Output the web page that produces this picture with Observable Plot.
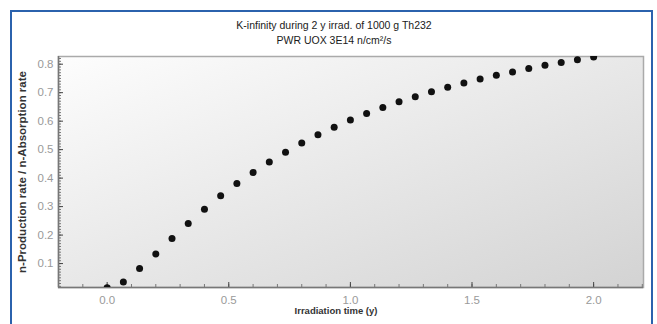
<!DOCTYPE html>
<html>
<head>
<meta charset="utf-8">
<script src="https://cdn.jsdelivr.net/npm/d3@7"></script>
<script src="https://cdn.jsdelivr.net/npm/@observablehq/plot@0.6"></script>
<style>
  html, body { margin: 0; padding: 0; background: #fff; }
  #wrap { position: relative; width: 657px; height: 324px; overflow: hidden; }
  #border { position: absolute; left: 10px; top: 10px; width: 639px; height: 340px; border: 2px solid #2b62ad; pointer-events: none; }
</style>
</head>
<body>
<div id="wrap"><div id="border"></div></div>
<script>
// ---- data ----
const times = d3.range(31).map(k => k / 15); // irradiation times (y), step 2/30
const kinf = [0.015, 0.035, 0.083, 0.134, 0.188, 0.241, 0.291, 0.338, 0.381, 0.420,
              0.457, 0.491, 0.523, 0.552, 0.579, 0.604, 0.627, 0.648, 0.668, 0.686,
              0.703, 0.719, 0.734, 0.748, 0.761, 0.773, 0.785, 0.796, 0.806, 0.816, 0.825];
const xMajor = [0, 0.5, 1.0, 1.5, 2.0];
const xMinor = d3.range(-1, 23).map(k => k / 10);
const yMajor = [0.1, 0.2, 0.3, 0.4, 0.5, 0.6, 0.7, 0.8];
const yMinor = d3.range(2, 83).map(k => k / 100);
const title1 = "K-infinity during 2 y irrad. of 1000 g Th232";
const title2 = "PWR UOX 3E14 n/cm\u00b2/s";
const xLabel = "Irradiation time (y)";
const yLabel = "n-Production rate / n-Absorption rate";

const data = times.map((t, i) => ({t, k: kinf[i]}));
const font = "Arial, 'Liberation Sans', Helvetica, sans-serif";

const W = 657, H = 324, mL = 58, mR = 14, mT = 56, mB = 37;
const innerW = W - mL - mR, innerH = H - mT - mB;

const plot = Plot.plot({
  width: W,
  height: H,
  marginLeft: mL,
  marginRight: mR,
  marginTop: mT,
  marginBottom: mB,
  style: {fontFamily: font, background: "transparent"},
  x: {domain: [-0.2, 2.205]},
  y: {domain: [0.016, 0.827]},
  marks: [
    Plot.frame({fill: "url(#bggrad)", stroke: "#aaa", strokeWidth: 1.5}),
    // minor & major inward ticks
    Plot.tickX(xMinor, {x: d => d, insetTop: innerH - 3, stroke: "#777"}),
    Plot.tickX(xMajor, {x: d => d, insetTop: innerH - 5, stroke: "#444"}),
    Plot.tickY(yMinor, {y: d => d, insetRight: innerW - 3, stroke: "#777"}),
    Plot.tickY(yMajor, {y: d => d, insetRight: innerW - 5, stroke: "#444"}),
    // tick labels
    Plot.axisX(xMajor, {tickSize: 0, tickPadding: 8, fill: "#9a9a9a", fontSize: 11.5, label: null, tickFormat: d3.format(".1f")}),
    Plot.axisY(yMajor, {tickSize: 0, tickPadding: 5, fill: "#9a9a9a", fontSize: 11.5, label: null, tickFormat: d3.format(".1f")}),
    Plot.ruleX([-0.2], {stroke: "#777", strokeWidth: 1.5}),
    Plot.ruleY([0.016], {stroke: "#777", strokeWidth: 1.5}),
    Plot.dot(data, {x: "t", y: "k", r: 3.5, fill: "#111", stroke: null, clip: true}),
    // titles and axis labels
    Plot.text([title1], {frameAnchor: "top", dy: -35, dx: -17, fontSize: 10.5, fill: "#1a1a1a"}),
    Plot.text([title2], {frameAnchor: "top", dy: -20, dx: -17, fontSize: 10.5, fill: "#1a1a1a"}),
    Plot.text([xLabel], {frameAnchor: "bottom", dy: 26, dx: -15, fontSize: 9.5, fontWeight: "bold", fill: "#333"}),
    Plot.text([yLabel], {frameAnchor: "left", textAnchor: "middle", dx: -36, rotate: -90, fontSize: 11.5, fontWeight: "bold", fill: "#333"})
  ]
});

const ns = "http://www.w3.org/2000/svg";
const defs = document.createElementNS(ns, "defs");
defs.innerHTML = `<linearGradient id="bggrad" x1="0" y1="0" x2="1" y2="1">
  <stop offset="0" stop-color="#fdfdfd"/>
  <stop offset="1" stop-color="#d3d3d3"/>
</linearGradient>`;
plot.insertBefore(defs, plot.firstChild);
document.getElementById("wrap").insertBefore(plot, document.getElementById("border"));
</script>
</body>
</html>
